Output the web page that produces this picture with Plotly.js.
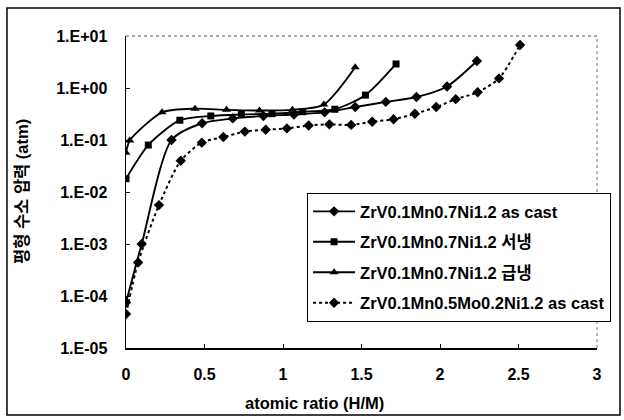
<!DOCTYPE html>
<html>
<head>
<meta charset="utf-8">
<script src="https://cdn.plot.ly/plotly-3.0.1.min.js"></script>
<style>html,body{margin:0;padding:0;background:#fff;}#chart{width:624px;height:420px;}</style>
</head>
<body>
<div id="chart"></div>
<script>
// Data
const seriesNames = [
  "ZrV0.1Mn0.7Ni1.2 as cast",
  "ZrV0.1Mn0.7Ni1.2 서냉",
  "ZrV0.1Mn0.7Ni1.2 급냉",
  "ZrV0.1Mn0.5Mo0.2Ni1.2 as cast"
];
const asCastX = [0, 0.10, 0.29, 0.485, 0.68, 0.875, 1.07, 1.265, 1.46, 1.655, 1.85, 2.045, 2.235];
const asCastY = [7.5e-5, 1.0e-3, 0.10, 0.21, 0.26, 0.29, 0.31, 0.34, 0.43, 0.54, 0.67, 1.07, 3.3];
const slowX = [0, 0.142, 0.343, 0.54, 0.735, 0.93, 1.125, 1.33, 1.525, 1.72];
const slowY = [0.018, 0.08, 0.24, 0.29, 0.31, 0.32, 0.35, 0.39, 0.73, 2.9];
const quickX = [0, 0.024, 0.23, 0.44, 0.64, 0.85, 1.06, 1.26, 1.46];
const quickY = [0.057, 0.098, 0.34, 0.40, 0.38, 0.37, 0.38, 0.48, 2.5];
const moX = [0, 0.077, 0.21, 0.349, 0.483, 0.62, 0.757, 0.89, 1.025, 1.163, 1.295, 1.434, 1.568, 1.704, 1.84, 1.976, 2.10, 2.24, 2.376, 2.51];
const moY = [4.5e-5, 4.4e-4, 5.6e-3, 0.040, 0.089, 0.114, 0.145, 0.157, 0.167, 0.19, 0.20, 0.195, 0.225, 0.25, 0.32, 0.43, 0.61, 0.83, 1.53, 6.7];
const yTickVals = [1e-5, 1e-4, 1e-3, 1e-2, 1e-1, 1, 10];
const yTickText = ["1.E-05", "1.E-04", "1.E-03", "1.E-02", "1.E-01", "1.E+00", "1.E+01"];
const xTickVals = [0, 0.5, 1, 1.5, 2, 2.5, 3];
const xTickText = ["0", "0.5", "1", "1.5", "2", "2.5", "3"];
const xTitle = "atomic ratio (H/M)";
const yTitle = "평형 수소 압력 (atm)";

const FONT = "Liberation Sans, Arial, Noto Sans CJK KR, sans-serif";
const black = "#000";

function mk(x, y, name, symbol, dash, size, grp) {
  return {
    x: x, y: y, name: name, type: "scatter", mode: "lines+markers",
    legendgroup: grp,
    line: {color: black, width: dash === "dot" ? 2 : 1.9, dash: dash, shape: "spline", smoothing: 0.7},
    marker: {symbol: symbol, size: size, color: black}
  };
}

const data = [
  mk(asCastX, asCastY, seriesNames[0], "diamond", "solid", 8, "a"),
  mk(slowX, slowY, seriesNames[1], "square", "solid", 7, "b"),
  mk(quickX, quickY, seriesNames[2], "triangle-up", "solid", 8, "c"),
  mk(moX, moY, seriesNames[3], "diamond", "dot", 8, "d")
];

const layout = {
  width: 624, height: 420,
  margin: {l: 126, r: 27, t: 36, b: 72},
  paper_bgcolor: "#fff", plot_bgcolor: "#fff",
  font: {family: FONT, color: black, size: 16, weight: "bold"},
  showlegend: true,
  legend: {
    x: 0.384, y: 0.497, xanchor: "left", yanchor: "top",
    bgcolor: "#fff", bordercolor: black, borderwidth: 1.2,
    font: {family: FONT, size: 16.5, color: black, weight: "bold"},
    traceorder: "grouped", tracegroupgap: 6,
    itemwidth: 42
  },
  xaxis: {
    range: [0, 3], tickvals: xTickVals, ticktext: xTickText,
    showgrid: false, zeroline: false,
    showline: true, linecolor: black, linewidth: 1.5,
    ticks: "inside", ticklen: 4, tickcolor: black,
    ticklabelstandoff: 11,
    tickfont: {family: FONT, size: 16, weight: "bold"}
  },
  yaxis: {
    type: "log", range: [-5, 1], tickvals: yTickVals, ticktext: yTickText,
    showgrid: false, zeroline: false,
    showline: true, linecolor: black, linewidth: 1.5,
    ticks: "inside", ticklen: 4, tickcolor: black,
    ticklabelstandoff: 14,
    tickfont: {family: FONT, size: 16, weight: "bold"}
  },
  annotations: [
    {text: xTitle, xref: "paper", yref: "paper", x: 0.401, y: -0.176,
     xanchor: "center", yanchor: "middle", showarrow: false,
     font: {family: FONT, size: 16.5, weight: "bold", color: black}},
    {text: yTitle, xref: "paper", yref: "paper", x: -0.2208, y: 0.5, textangle: -90,
     xanchor: "center", yanchor: "middle", showarrow: false,
     font: {family: FONT, size: 16.5, weight: "bold", color: black}}
  ],
  shapes: [
    {type: "line", xref: "paper", yref: "paper", x0: 0, x1: 1, y0: 1, y1: 1,
     line: {color: "#555", width: 1.2, dash: "dot"}},
    {type: "line", xref: "paper", yref: "paper", x0: 1, x1: 1, y0: 0, y1: 1,
     line: {color: "#777", width: 1, dash: "dot"}},
    {type: "rect", xref: "paper", yref: "paper", x0: -0.2527, x1: 1.0488, y0: -0.2147, y1: 1.0897,
     line: {color: black, width: 1.5}}
  ]
};

Plotly.newPlot("chart", data, layout, {staticPlot: true, displayModeBar: false});
</script>
</body>
</html>
